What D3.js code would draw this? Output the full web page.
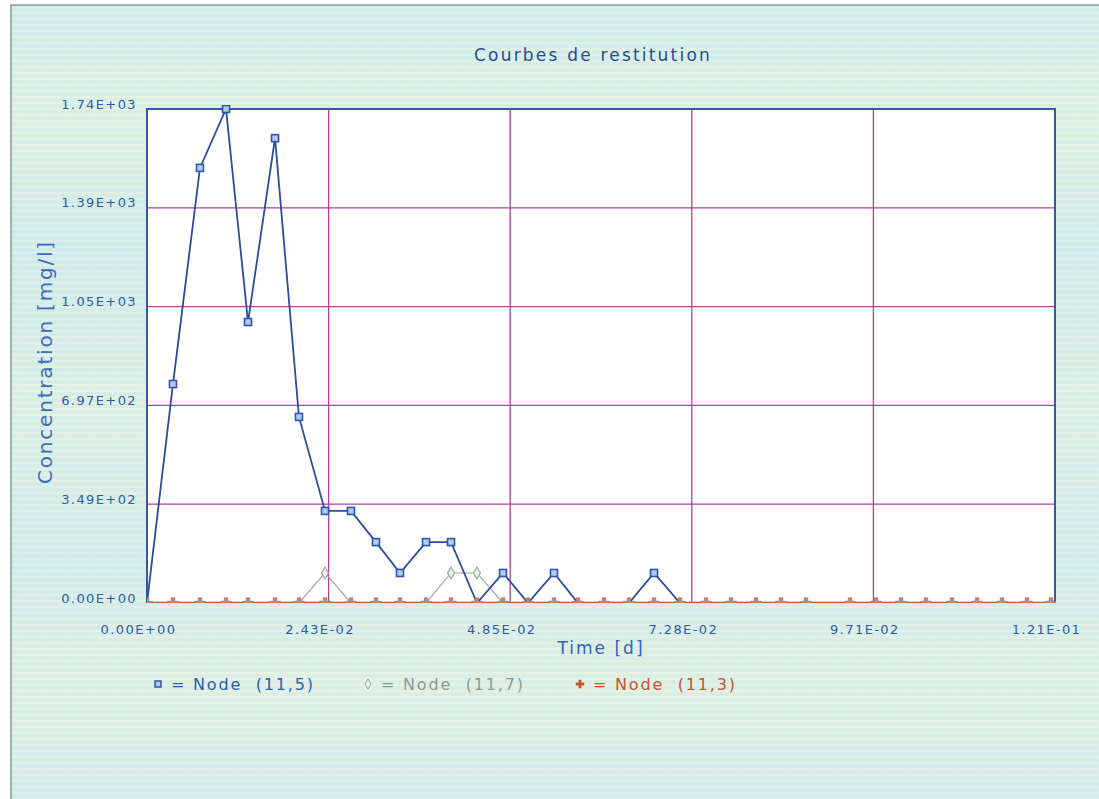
<!DOCTYPE html>
<html>
<head>
<meta charset="utf-8">
<script src="https://cdn.jsdelivr.net/npm/d3@7"></script>
<style>
  html, body { margin: 0; padding: 0; background: #ffffff; }
  svg { display: block; }
  text { font-family: "DejaVu Sans", sans-serif; }
</style>
</head>
<body>
<svg id="chart" width="1099" height="799"></svg>
<script>
// ---------- data ----------
const times = [0, 0.00347, 0.00708, 0.01056, 0.01350, 0.01711, 0.02031, 0.02379, 0.02726,
  0.03060, 0.03381, 0.03729, 0.04063, 0.04410, 0.04758, 0.05092, 0.05439, 0.05760,
  0.06108, 0.06442, 0.06776, 0.07123, 0.07471, 0.07805, 0.08139, 0.08473, 0.08807,
  0.09395, 0.09743, 0.10077, 0.10411, 0.10758, 0.11093, 0.11427, 0.11761, 0.12082];
const node115 = [0, 773, 1536, 1744, 992, 1641, 657, 325, 325, 215, 106, 215, 215, 0, 106, 0,
  106, 0, 0, 0, 106, 0, 0, 0, 0, 0, 0, 0, 0, 0, 0, 0, 0, 0, 0, 0];
const node117 = [0, 0, 0, 0, 0, 0, 0, 106, 0, 0, 0, 0, 106, 106, 0, 0,
  0, 0, 0, 0, 0, 0, 0, 0, 0, 0, 0, 0, 0, 0, 0, 0, 0, 0, 0, 0];
const node113 = [0, 0, 0, 0, 0, 0, 0, 0, 0, 0, 0, 0, 0, 0, 0, 0,
  0, 0, 0, 0, 0, 0, 0, 0, 0, 0, 0, 0, 0, 0, 0, 0, 0, 0, 0, 0];
const xTickValues = [0, 0.02427, 0.04854, 0.07281, 0.09708, 0.12135];
const xTickLabels = ["0.00E+00", "2.43E-02", "4.85E-02", "7.28E-02", "9.71E-02", "1.21E-01"];
const yTickValues = [0, 348.8, 697.6, 1046.4, 1395.2, 1744];
const yTickLabels = ["0.00E+00", "3.49E+02", "6.97E+02", "1.05E+03", "1.39E+03", "1.74E+03"];
const seriesNames = ["Node  (11,5)", "Node  (11,7)", "Node  (11,3)"];
const title = "Courbes de restitution";
const xTitle = "Time [d]";
const yTitle = "Concentration [mg/l]";

// ---------- layout ----------
const svg = d3.select("#chart");
const L = 147, R = 1055, T = 109, B = 603;
const x = d3.scaleLinear().domain([0, 0.12135]).range([L, R]);
const y = d3.scaleLinear().domain([0, 1744]).range([B, T]);

const defs = svg.append("defs");
const pat = defs.append("pattern").attr("id", "tex").attr("patternUnits", "userSpaceOnUse")
  .attr("width", 6).attr("height", 6);
pat.append("rect").attr("width", 6).attr("height", 6).attr("fill", "#d3ecea");
pat.append("rect").attr("y", 0).attr("width", 6).attr("height", 2).attr("fill", "#e6f2e2");
pat.append("rect").attr("x", 1).attr("y", 3).attr("width", 2).attr("height", 1).attr("fill", "#c4e4ea");

const grad = defs.append("linearGradient").attr("id", "tint").attr("x1", 0).attr("y1", 0).attr("x2", 0).attr("y2", 1);
[["0", "#cfeef4"], ["0.15", "#e6f3dc"], ["0.3", "#cde9ee"], ["0.5", "#e2f1e4"], ["0.7", "#d1ecf0"], ["0.85", "#e7f2e0"], ["1", "#d4edf2"]]
  .forEach(([o, c]) => grad.append("stop").attr("offset", o).attr("stop-color", c));

// panel
svg.append("rect").attr("x", 11).attr("y", 5).attr("width", 1100).attr("height", 800)
  .attr("fill", "url(#tint)");
svg.append("rect").attr("x", 11).attr("y", 5).attr("width", 1100).attr("height", 800)
  .attr("fill", "url(#tex)").attr("opacity", 0.55);
svg.append("rect").attr("x", 11).attr("y", 5).attr("width", 1100).attr("height", 800)
  .attr("fill", "none").attr("stroke", "#6f7f7a").attr("stroke-width", 1.2);

// plot area
svg.append("rect").attr("x", L).attr("y", T).attr("width", R - L).attr("height", B - T).attr("fill", "#ffffff");

defs.append("clipPath").attr("id", "clip").append("rect")
  .attr("x", L).attr("y", T - 4).attr("width", R - L + 1).attr("height", B - T + 4);

// grid
const gridColor = "#b0409a";
svg.append("g").selectAll("line").data(yTickValues.slice(1, -1)).join("line")
  .attr("x1", L).attr("x2", R).attr("y1", d => y(d)).attr("y2", d => y(d))
  .attr("stroke", gridColor).attr("stroke-width", 1.3);
svg.append("g").selectAll("line").data(xTickValues.slice(1, -1)).join("line")
  .attr("y1", T).attr("y2", B).attr("x1", d => x(d)).attr("x2", d => x(d))
  .attr("stroke", gridColor).attr("stroke-width", 1.3);

// frame
svg.append("path").attr("d", `M${L},${B}V${T}H${R}V${B}`)
  .attr("fill", "none").attr("stroke", "#3a58a0").attr("stroke-width", 2);

// axes (labels only)
const axColor = "#2f5aa8";
const yAxis = svg.append("g").attr("transform", `translate(${L - 10},-5)`)
  .call(d3.axisLeft(y).tickValues(yTickValues).tickSize(0).tickFormat((d, i) => yTickLabels[i]));
yAxis.select(".domain").remove();
yAxis.selectAll("text").attr("fill", axColor).attr("font-size", 13).attr("letter-spacing", 1.4)
  .attr("font-family", "DejaVu Sans").attr("x", 0);

const xAxis = svg.append("g").attr("transform", `translate(-9,${B + 22})`)
  .call(d3.axisBottom(x).tickValues(xTickValues).tickSize(0).tickFormat((d, i) => xTickLabels[i]));
xAxis.select(".domain").remove();
xAxis.selectAll("text").attr("fill", axColor).attr("font-size", 13).attr("letter-spacing", 1.4)
  .attr("font-family", "DejaVu Sans").attr("y", 0);

// titles
svg.append("text").attr("x", 593).attr("y", 61).attr("text-anchor", "middle")
  .attr("font-size", 17).attr("letter-spacing", 2.2).attr("fill", "#2a4a94").text(title);
svg.append("text").attr("x", 601).attr("y", 654).attr("text-anchor", "middle")
  .attr("font-size", 17).attr("letter-spacing", 2).attr("fill", "#3463b4").text(xTitle);
svg.append("text").attr("transform", "translate(52,362) rotate(-90)").attr("text-anchor", "middle")
  .attr("font-size", 20).attr("letter-spacing", 1.8).attr("fill", "#3d6cba").text(yTitle);

// series
const colors = ["#2c4c9c", "#9aa79c", "#b85a2c"];
const plot = svg.append("g").attr("clip-path", "url(#clip)");
const line = d3.line().x(d => x(d[0])).y(d => y(d[1]));
const pts = arr => times.map((t, i) => [t, arr[i]]);

plot.append("path").datum(pts(node117)).attr("d", line).attr("fill", "none")
  .attr("stroke", colors[1]).attr("stroke-width", 1.2);
plot.append("path").datum(pts(node115)).attr("d", line).attr("fill", "none")
  .attr("stroke", colors[0]).attr("stroke-width", 1.8);
plot.append("path").datum(pts(node113)).attr("d", line).attr("fill", "none")
  .attr("stroke", colors[2]).attr("stroke-width", 2.4);

// markers
plot.selectAll(".m117").data(pts(node117).filter(d => d[1] > 0)).join("path")
  .attr("d", d3.symbol(d3.symbolDiamond, 42)())
  .attr("transform", d => `translate(${x(d[0])},${y(d[1])})`)
  .attr("fill", "#eef2ee").attr("stroke", colors[1]).attr("stroke-width", 1.2);
plot.selectAll(".m115").data(pts(node115).filter(d => d[1] > 0)).join("rect")
  .attr("x", d => x(d[0]) - 3.5).attr("y", d => y(d[1]) - 3.5).attr("width", 7).attr("height", 7)
  .attr("fill", "#b4cbf0").attr("stroke", "#2c55b0").attr("stroke-width", 1.6);
plot.selectAll(".m113").data(pts(node113)).join("path")
  .attr("d", d3.symbol(d3.symbolCross, 60)())
  .attr("transform", d => `translate(${x(d[0])},${y(d[1])})`)
  .attr("fill", "#c48a6a").attr("stroke", "#a9603a").attr("stroke-width", 0.6);

// legend
const legY = 690;
const legX = [158, 368, 580];
const legText = ["#2d5bab", "#8c9c8e", "#c2552e"];
legX.forEach((lx, i) => {
  const g = svg.append("g");
  if (i === 0) {
    g.append("rect").attr("x", lx - 3).attr("y", legY - 9).attr("width", 6).attr("height", 6)
      .attr("fill", "#b4cbf0").attr("stroke", "#2c55b0").attr("stroke-width", 1.5);
  } else if (i === 1) {
    g.append("path").attr("d", d3.symbol(d3.symbolDiamond, 30)())
      .attr("transform", `translate(${lx},${legY - 6})`).attr("fill", "#eef2ee").attr("stroke", colors[1]);
  } else {
    g.append("path").attr("d", d3.symbol(d3.symbolCross, 40)())
      .attr("transform", `translate(${lx},${legY - 6})`).attr("fill", "#c2552e");
  }
  g.append("text").attr("x", lx + 13).attr("y", legY).attr("font-size", 16)
    .attr("letter-spacing", 1.8).attr("fill", legText[i]).style("white-space", "pre")
    .text("= " + seriesNames[i]);
});
</script>
</body>
</html>
